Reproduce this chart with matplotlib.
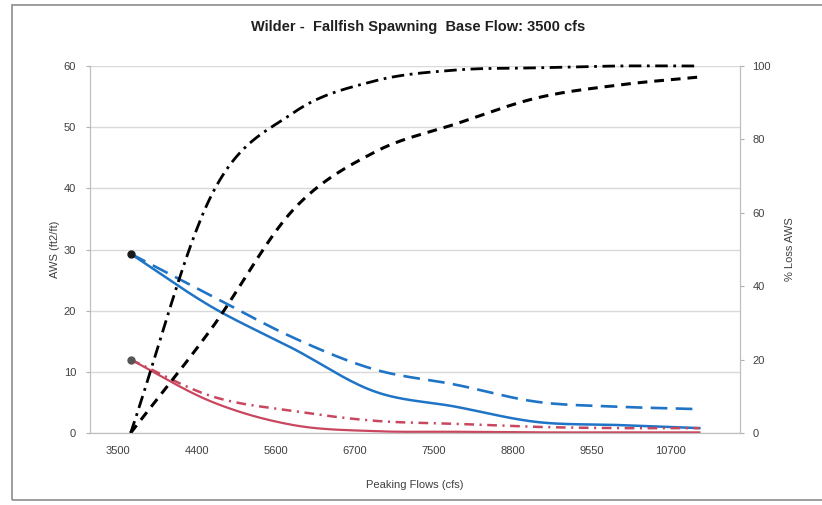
import numpy as np
import matplotlib
matplotlib.use("Agg")
import matplotlib.pyplot as plt
from matplotlib.patches import Rectangle

plt.rcParams['font.family'] = ['Liberation Sans', 'DejaVu Sans']
plt.rcParams['lines.scale_dashes'] = False

# data
flows = ['3500', '4400', '5600', '6700', '7500', '8800', '9550', '10700']
aws_blue_solid = [29.3, 20.6, 13.8, 6.8, 4.3, 1.8, 1.3, 0.8]
aws_blue_dash = [29.3, 22.4, 15.6, 10.4, 7.9, 5.1, 4.3, 3.9]
aws_red_solid = [12.0, 5.1, 1.3, 0.3, 0.2, 0.1, 0.1, 0.1]
aws_red_dashdot = [12.0, 6.0, 3.6, 2.0, 1.5, 1.0, 0.8, 0.8]
loss_dashdot = [0.0, 65.0, 87.2, 95.9, 98.9, 99.5, 100.0, 100.0]
loss_dash = [0.0, 28.6, 60.8, 76.5, 84.2, 91.3, 94.8, 97.0]


def smooth(y, n=30):
    # catmull-rom through the points, like excel's smoothed lines
    y = np.asarray(y, float)
    p = np.concatenate([[2*y[0]-y[1]], y, [2*y[-1]-y[-2]]])
    xs, ys = [], []
    for i in range(len(y)-1):
        t = np.linspace(0, 1, n, endpoint=False)
        p0, p1, p2, p3 = p[i], p[i+1], p[i+2], p[i+3]
        yy = 0.5*((2*p1) + (-p0+p2)*t + (2*p0-5*p1+4*p2-p3)*t**2 + (-p0+3*p1-3*p2+p3)*t**3)
        xs.append(i+t)
        ys.append(yy)
    xs.append([len(y)-1])
    ys.append([y[-1]])
    return np.concatenate(xs), np.concatenate(ys)


fig = plt.figure(figsize=(8.22, 5.05), dpi=100, facecolor='white')
ax = fig.add_axes([90/822, 1-433/505, 650/822, 367/505])
ax2 = ax.twinx()

blue = '#1f74c6'
red = '#c9475e'
grid_c = '#d9d9d9'
txt_c = '#404040'

x = np.arange(len(flows))

xs, ys = smooth(aws_blue_solid)
ax.plot(xs, ys, color=blue, lw=1.8, zorder=3)
xs, ys = smooth(aws_blue_dash)
ax.plot(xs, ys, color=blue, lw=1.9, dashes=(12, 6), zorder=3)
xs, ys = smooth(aws_red_solid)
ax.plot(xs, ys, color=red, lw=1.6, zorder=3)
xs, ys = smooth(aws_red_dashdot)
ax.plot(xs, ys, color=red, lw=1.8, dashes=(7, 4, 1.5, 4), zorder=3)
ax.plot(x[:1], aws_blue_solid[:1], 'o', color='#1a1a1a', ms=5, zorder=4)
ax.plot(x[:1], aws_red_solid[:1], 'o', color='#555555', ms=5, zorder=4)

xs, ys = smooth(loss_dashdot)
ax2.plot(xs, ys, color='black', lw=2.0, dashes=(9, 4, 2, 4), clip_on=False)
xs, ys = smooth(loss_dash)
ax2.plot(xs, ys, color='black', lw=2.2, dashes=(7, 5))

ax.set_xlim(-0.5, 7.5)
ax.set_ylim(0, 60)
ax2.set_ylim(0, 100)
ax.set_yticks(np.arange(0, 61, 10))
ax2.set_yticks(np.arange(0, 101, 20))

ax.set_xticks(np.arange(len(flows))*0.972 - 0.16)
ax.set_xticklabels(flows)
ax.tick_params(axis='x', length=0, pad=9, labelsize=8, labelcolor=txt_c)
ax.tick_params(axis='y', length=3, color='#b0b0b0', labelsize=8, labelcolor=txt_c, pad=7)
ax2.tick_params(axis='y', length=3, color='#b0b0b0', labelsize=8, labelcolor=txt_c, pad=6)

ax.grid(axis='y', color=grid_c, lw=1.0)
ax.set_axisbelow(True)
for a in (ax, ax2):
    for s in a.spines.values():
        s.set_color('#bfbfbf')
    a.spines['top'].set_visible(False)

ax.set_ylabel('AWS (ft2/ft)', fontsize=8, color=txt_c, labelpad=3)
ax2.set_ylabel('% Loss AWS', fontsize=8, color=txt_c, rotation=90, labelpad=10)
ax.set_xlabel('Peaking Flows (cfs)', fontsize=8, color=txt_c, labelpad=18)
fig.text(418/822, 1-27/505, 'Wilder -  Fallfish Spawning  Base Flow: 3500 cfs',
         ha='center', va='center', fontsize=10.5, fontweight='bold', color='#202020')

# outer chart frame
fig.patches.append(Rectangle((12/822, 1-500/505), 830/822, 495/505, transform=fig.transFigure,
                             fill=False, edgecolor='#8c8c8c', lw=1.2))

fig.savefig('out.png', dpi=100, facecolor='white')
